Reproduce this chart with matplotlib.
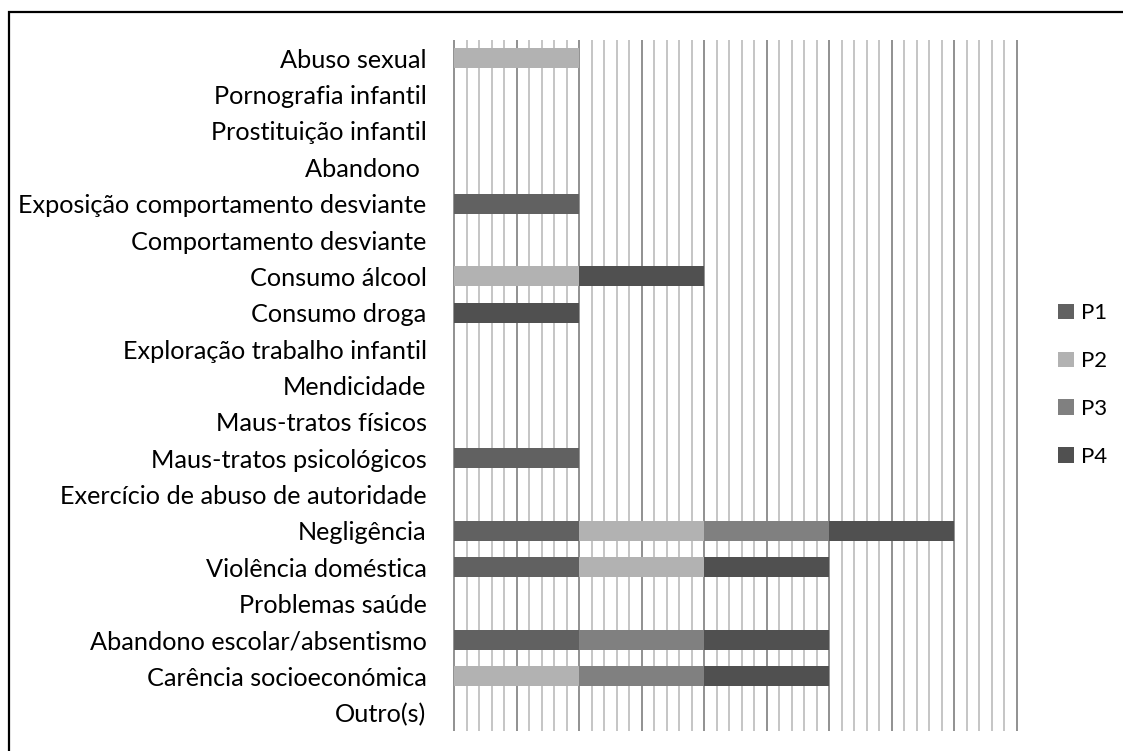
import matplotlib

matplotlib.use("Agg")
import matplotlib.pyplot as plt  # noqa: E402
import numpy as np  # noqa: E402
from matplotlib.patches import Rectangle  # noqa: E402

plt.rcParams["font.family"] = ["Lato", "DejaVu Sans"]

categories = [
    "Abuso sexual",
    "Pornografia infantil",
    "Prostituição infantil",
    "Abandono ",
    "Exposição comportamento desviante",
    "Comportamento desviante",
    "Consumo álcool",
    "Consumo droga",
    "Exploração trabalho infantil",
    "Mendicidade",
    "Maus-tratos físicos",
    "Maus-tratos psicológicos",
    "Exercício de abuso de autoridade",
    "Negligência",
    "Violência doméstica",
    "Problemas saúde",
    "Abandono escolar/absentismo",
    "Carência socioeconómica",
    "Outro(s)",
]
p1 = [0, 0, 0, 0, 1, 0, 0, 0, 0, 0, 0, 1, 0, 1, 1, 0, 1, 0, 0]
p2 = [1, 0, 0, 0, 0, 0, 1, 0, 0, 0, 0, 0, 0, 1, 1, 0, 0, 1, 0]
p3 = [0, 0, 0, 0, 0, 0, 0, 0, 0, 0, 0, 0, 0, 1, 0, 0, 1, 1, 0]
p4 = [0, 0, 0, 0, 0, 0, 1, 1, 0, 0, 0, 0, 0, 1, 1, 0, 1, 1, 0]
series = ["P1", "P2", "P3", "P4"]
colors = ["#616161", "#b2b2b2", "#808080", "#505050"]

W, H = 1123, 751
fig = plt.figure(figsize=(W / 100, H / 100), dpi=100)

x0, x1 = -0.02, 4.52
px_per_unit = 125
left_px = 454 + x0 * px_per_unit
right_px = 454 + x1 * px_per_unit
top_px, bot_px = 40, 731
ax = fig.add_axes([left_px / W, 1 - bot_px / H, (right_px - left_px) / W,
                   (bot_px - top_px) / H])

y = np.arange(len(categories))
left = np.zeros(len(categories))
for name, vals, c in zip(series, [p1, p2, p3, p4], colors):
    vals = np.array(vals, dtype=float)
    ax.barh(y, vals, left=left, height=0.55, color=c, label=name, zorder=3)
    left += vals

ax.set_xlim(x0, x1)
ax.set_ylim(len(categories) - 0.5, -0.5)
ax.set_yticks(y)
ax.set_yticklabels(categories, fontsize=18.2)
ax.tick_params(axis="y", length=0, pad=18)
ax.set_xticks(np.arange(0, 4.51, 0.5))
ax.set_xticks(np.arange(0, 4.51, 0.1), minor=True)
ax.tick_params(axis="x", which="both", length=0, labelbottom=False)
ax.grid(axis="x", which="minor", color="#c0c0c0", lw=1.3, zorder=1)
ax.grid(axis="x", which="major", color="#888888", lw=1.3, zorder=2)
for s in ax.spines.values():
    s.set_visible(False)

ax.legend(loc="center left", bbox_to_anchor=(1058 / W, 1 - 385 / H),
          bbox_transform=fig.transFigure, frameon=False, fontsize=16,
          handlelength=0.7, handleheight=0.7, handletextpad=0.35,
          labelspacing=1.25, borderaxespad=0, borderpad=0)

fig.patches.append(Rectangle((9 / W, -0.1), 1.2, 1 - 12 / H + 0.1,
                             transform=fig.transFigure, fill=False,
                             edgecolor="black", lw=1.6))

fig.savefig("out.png", dpi=100)
